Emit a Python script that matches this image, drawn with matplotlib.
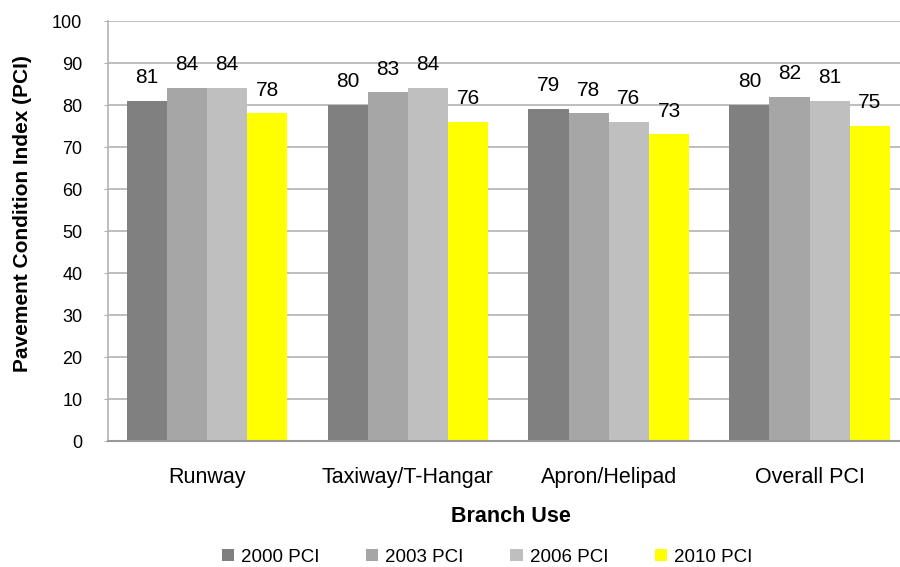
import numpy as np
import matplotlib
matplotlib.use("Agg")
import matplotlib.pyplot as plt

categories = ["Runway", "Taxiway/T-Hangar", "Apron/Helipad", "Overall PCI"]
series_names = ["2000 PCI", "2003 PCI", "2006 PCI", "2010 PCI"]
pci_2000 = [81, 80, 79, 80]
pci_2003 = [84, 83, 78, 82]
pci_2006 = [84, 84, 76, 81]
pci_2010 = [78, 76, 73, 75]
colors = ["#808080", "#a6a6a6", "#bfbfbf", "#ffff00"]

plt.rcParams["font.family"] = ["Liberation Sans", "DejaVu Sans"]

fig = plt.figure(figsize=(9, 5.67), dpi=100)
ax = fig.add_axes([108 / 900, 126 / 567, 1 - 108 / 900, 420 / 567])

x = np.arange(len(categories))
width = 0.2
all_series = [pci_2000, pci_2003, pci_2006, pci_2010]
for i, (vals, name, c) in enumerate(zip(all_series, series_names, colors)):
    pos = x + (i - 1.5) * width
    ax.bar(pos, vals, width, color=c, label=name, zorder=2)
    for p, v in zip(pos, vals):
        ax.annotate(str(v), (p, v), xytext=(0, 10), textcoords="offset points",
                    ha="center", va="bottom", fontsize=15)

ax.set_xlim(-0.493, 3.45)
ax.set_ylim(0, 100)
ax.set_yticks(range(0, 101, 10))
ax.yaxis.grid(True, color="#b3b3b3", linewidth=1.2, zorder=0)
ax.set_axisbelow(True)

for s in ["top", "right"]:
    ax.spines[s].set_visible(False)
ax.spines["left"].set_color("#b3b3b3")
ax.spines["bottom"].set_color("#999999")
ax.spines["left"].set_linewidth(1.2)
ax.spines["bottom"].set_linewidth(1.5)

ax.set_xticks(x)
ax.set_xticklabels(categories, fontsize=15.5)
ax.tick_params(axis="x", length=0, pad=19)
ax.tick_params(axis="y", labelsize=13, length=3, color="#b3b3b3", pad=15.5)

# axis titles placed in figure coordinates
fig.text(23 / 900, 1 - 214 / 567, "Pavement Condition Index (PCI)", rotation=90,
         ha="center", va="center", fontsize=15, fontweight="bold")
fig.text(511 / 900, 1 - 517 / 567, "Branch Use", ha="center", va="center",
         fontsize=15.5, fontweight="bold")

handles, labels = ax.get_legend_handles_labels()
fig.legend(handles, labels, loc="center", bbox_to_anchor=(487 / 900, 1 - 557 / 567),
           ncol=4, frameon=False, fontsize=13.5, handlelength=0.65, handleheight=0.65,
           handletextpad=0.37, columnspacing=2.5, borderpad=0)

fig.savefig("out.png", dpi=100)
